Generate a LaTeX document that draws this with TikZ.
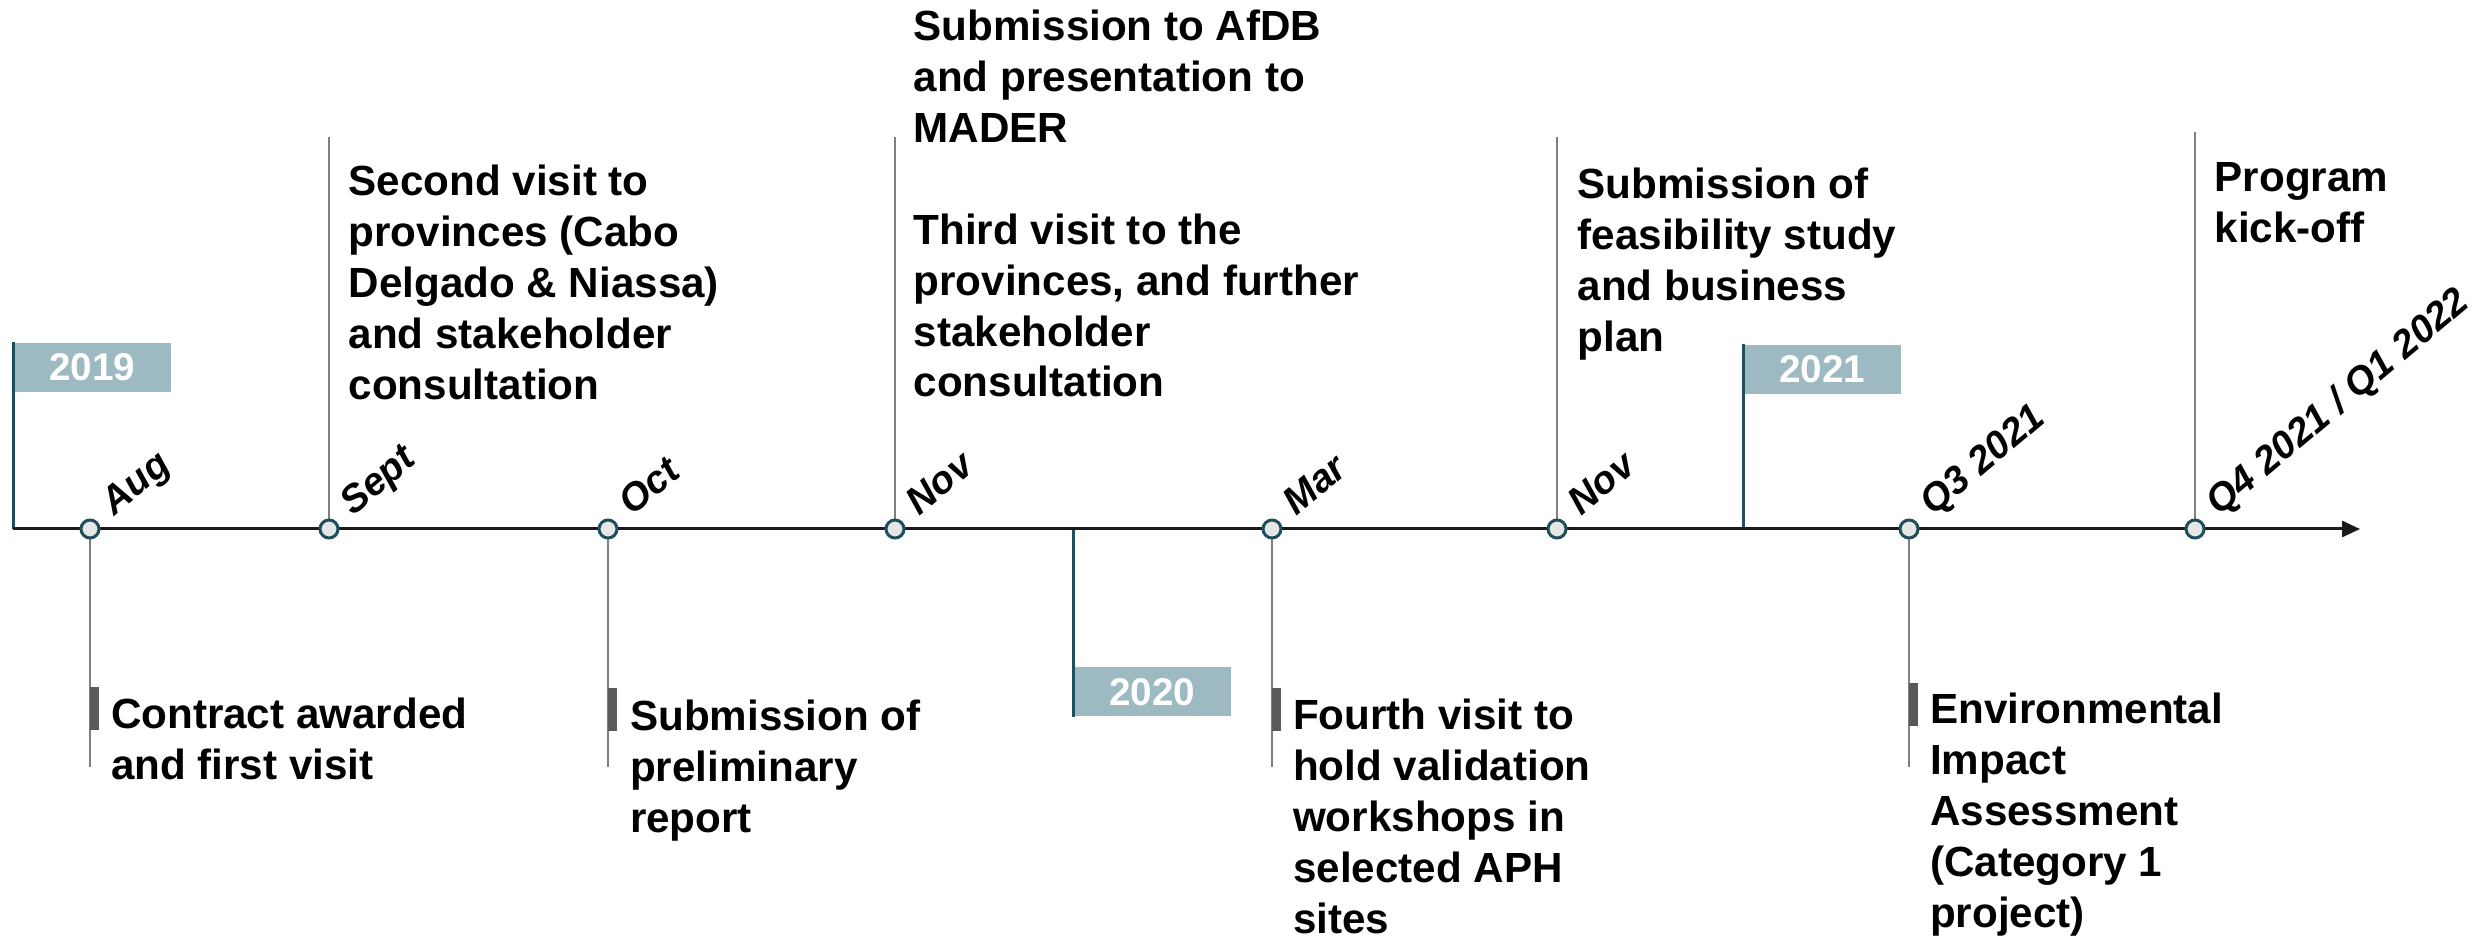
\documentclass[tikz,border=0pt]{standalone}
\usepackage{fontspec}
\setmainfont{Liberation Sans}
\usetikzlibrary{arrows.meta,positioning}
\definecolor{poleteal}{RGB}{31,78,92}
\definecolor{flagblue}{RGB}{157,185,194}
\definecolor{dotgray}{RGB}{230,230,230}
\definecolor{stemgray}{RGB}{128,128,128}
\definecolor{bargray}{RGB}{89,89,89}
\definecolor{axisblack}{RGB}{26,26,26}

\begin{document}
\begin{tikzpicture}[x=0.1mm,y=0.1mm,>={Triangle[length=1.8mm,width=1.6mm]}]
    \tikzstyle{dot}=[circle,draw=poleteal,fill=dotgray,line width=0.3mm,minimum size=1.8mm,inner sep=0pt]
    \tikzstyle{stem}=[draw=stemgray,line width=0.2mm]
    \tikzstyle{barmark}=[fill=bargray,minimum width=0.9mm,minimum height=4.3mm,inner sep=0pt,anchor=north west]
    \tikzstyle{pole}=[draw=poleteal,line width=0.3mm]
    \tikzstyle{yearbox}=[fill=flagblue,text=white,font=\fontsize{11}{13}\selectfont\bfseries,minimum width=15.7mm,minimum height=4.9mm,inner sep=0pt]
    \tikzstyle{month}=[font=\fontsize{11}{13}\selectfont\bfseries\itshape,rotate=40,anchor=base west,inner sep=0pt]
    \tikzstyle{event}=[font=\fontsize{12}{14.5}\selectfont\bfseries,align=left,inner sep=0pt]

    \useasboundingbox (0,0) rectangle (2478,940);

    % axis ends and milestones
    \coordinate (ax0) at (13,411);
    \coordinate (ax1) at (2360,411);
    \foreach \n/\x in {1/90,2/329,3/608,4/895,5/1272,6/1557,7/1909,8/2195}
        \coordinate (p\n) at (\x,411);

    % stems above the axis
    \foreach \n/\x/\y in {2/329/803,4/895/803,6/1557/803,8/2195/808} {
        \coordinate (t\n) at (\x,\y);
        \draw[stem] (p\n) -- (t\n);
    }
    % stems below the axis, with their marks
    \foreach \n/\x/\y in {1/90/254,3/608/253,5/1272/253,7/1909/258} {
        \coordinate (t\n) at (\x,173);
        \draw[stem] (p\n) -- (t\n);
        \node[barmark] (b\n) at (\x-1,\y) {};
    }

    % year flags
    \node[yearbox,anchor=north west] (y19) at (13,598) {2019};
    \draw[pole] (y19.north west) -- (ax0);
    \node[yearbox,anchor=south west] (y20) at (1073,223) {2020};
    \draw[pole] (y20.south west) -- (y20.south west |- ax0);
    \node[yearbox,anchor=north west] (y21) at (1743,596) {2021};
    \draw[pole] (y21.north west) -- (y21.north west |- ax0);

    % the axis
    \draw[->,draw=axisblack,fill=axisblack,line width=0.3mm] (ax0) -- (ax1);

    \foreach \n in {1,...,8}
        \node[dot] (m\n) at (p\n) {};

    % month labels
    \node[month] (l1) at ([shift={(24,12)}]p1) {Aug};
    \node[month] (l2) at ([shift={(24,12)}]p2) {Sept};
    \node[month] (l3) at ([shift={(24,12)}]p3) {Oct};
    \node[month] (l4) at ([shift={(24,12)}]p4) {Nov};
    \node[month] (l5) at ([shift={(24,12)}]p5) {Mar};
    \node[month] (l6) at ([shift={(24,12)}]p6) {Nov};
    \node[month] (l7) at ([shift={(24,12)}]p7) {Q3 2021};
    \node[month] (l8) at ([shift={(24,12)}]p8) {Q4 2021 / Q1 2022};

    % events above
    \node[event,below right=2.7mm and 1.9mm of t2] (e2)
        {Second visit to\\provinces (Cabo\\Delgado \& Niassa)\\and stakeholder\\consultation};
    \node[event,anchor=north west] (e4) at ([shift={(18,128)}]t4)
        {Submission to AfDB\\and presentation to\\MADER\\[14.5pt]Third visit to the\\provinces, and further\\stakeholder\\consultation};
    \node[event,below right=3.0mm and 2.0mm of t6] (e6)
        {Submission of\\feasibility study\\and business\\plan};
    \node[event,below right=3.0mm and 1.9mm of t8] (e8)
        {Program\\kick-off};

    % events below
    \node[event,below right=1.1mm and 1.1mm of b1.north east] (e1)
        {Contract awarded\\and first visit};
    \node[event,below right=1.2mm and 1.2mm of b3.north east] (e3)
        {Submission of\\preliminary\\report};
    \node[event,below right=1.1mm and 1.1mm of b5.north east] (e5)
        {Fourth visit to\\hold validation\\workshops in\\selected APH\\sites};
    \node[event,below right=1.0mm and 1.1mm of b7.north east] (e7)
        {Environmental\\Impact\\Assessment\\(Category 1\\project)};
\end{tikzpicture}
\end{document}
